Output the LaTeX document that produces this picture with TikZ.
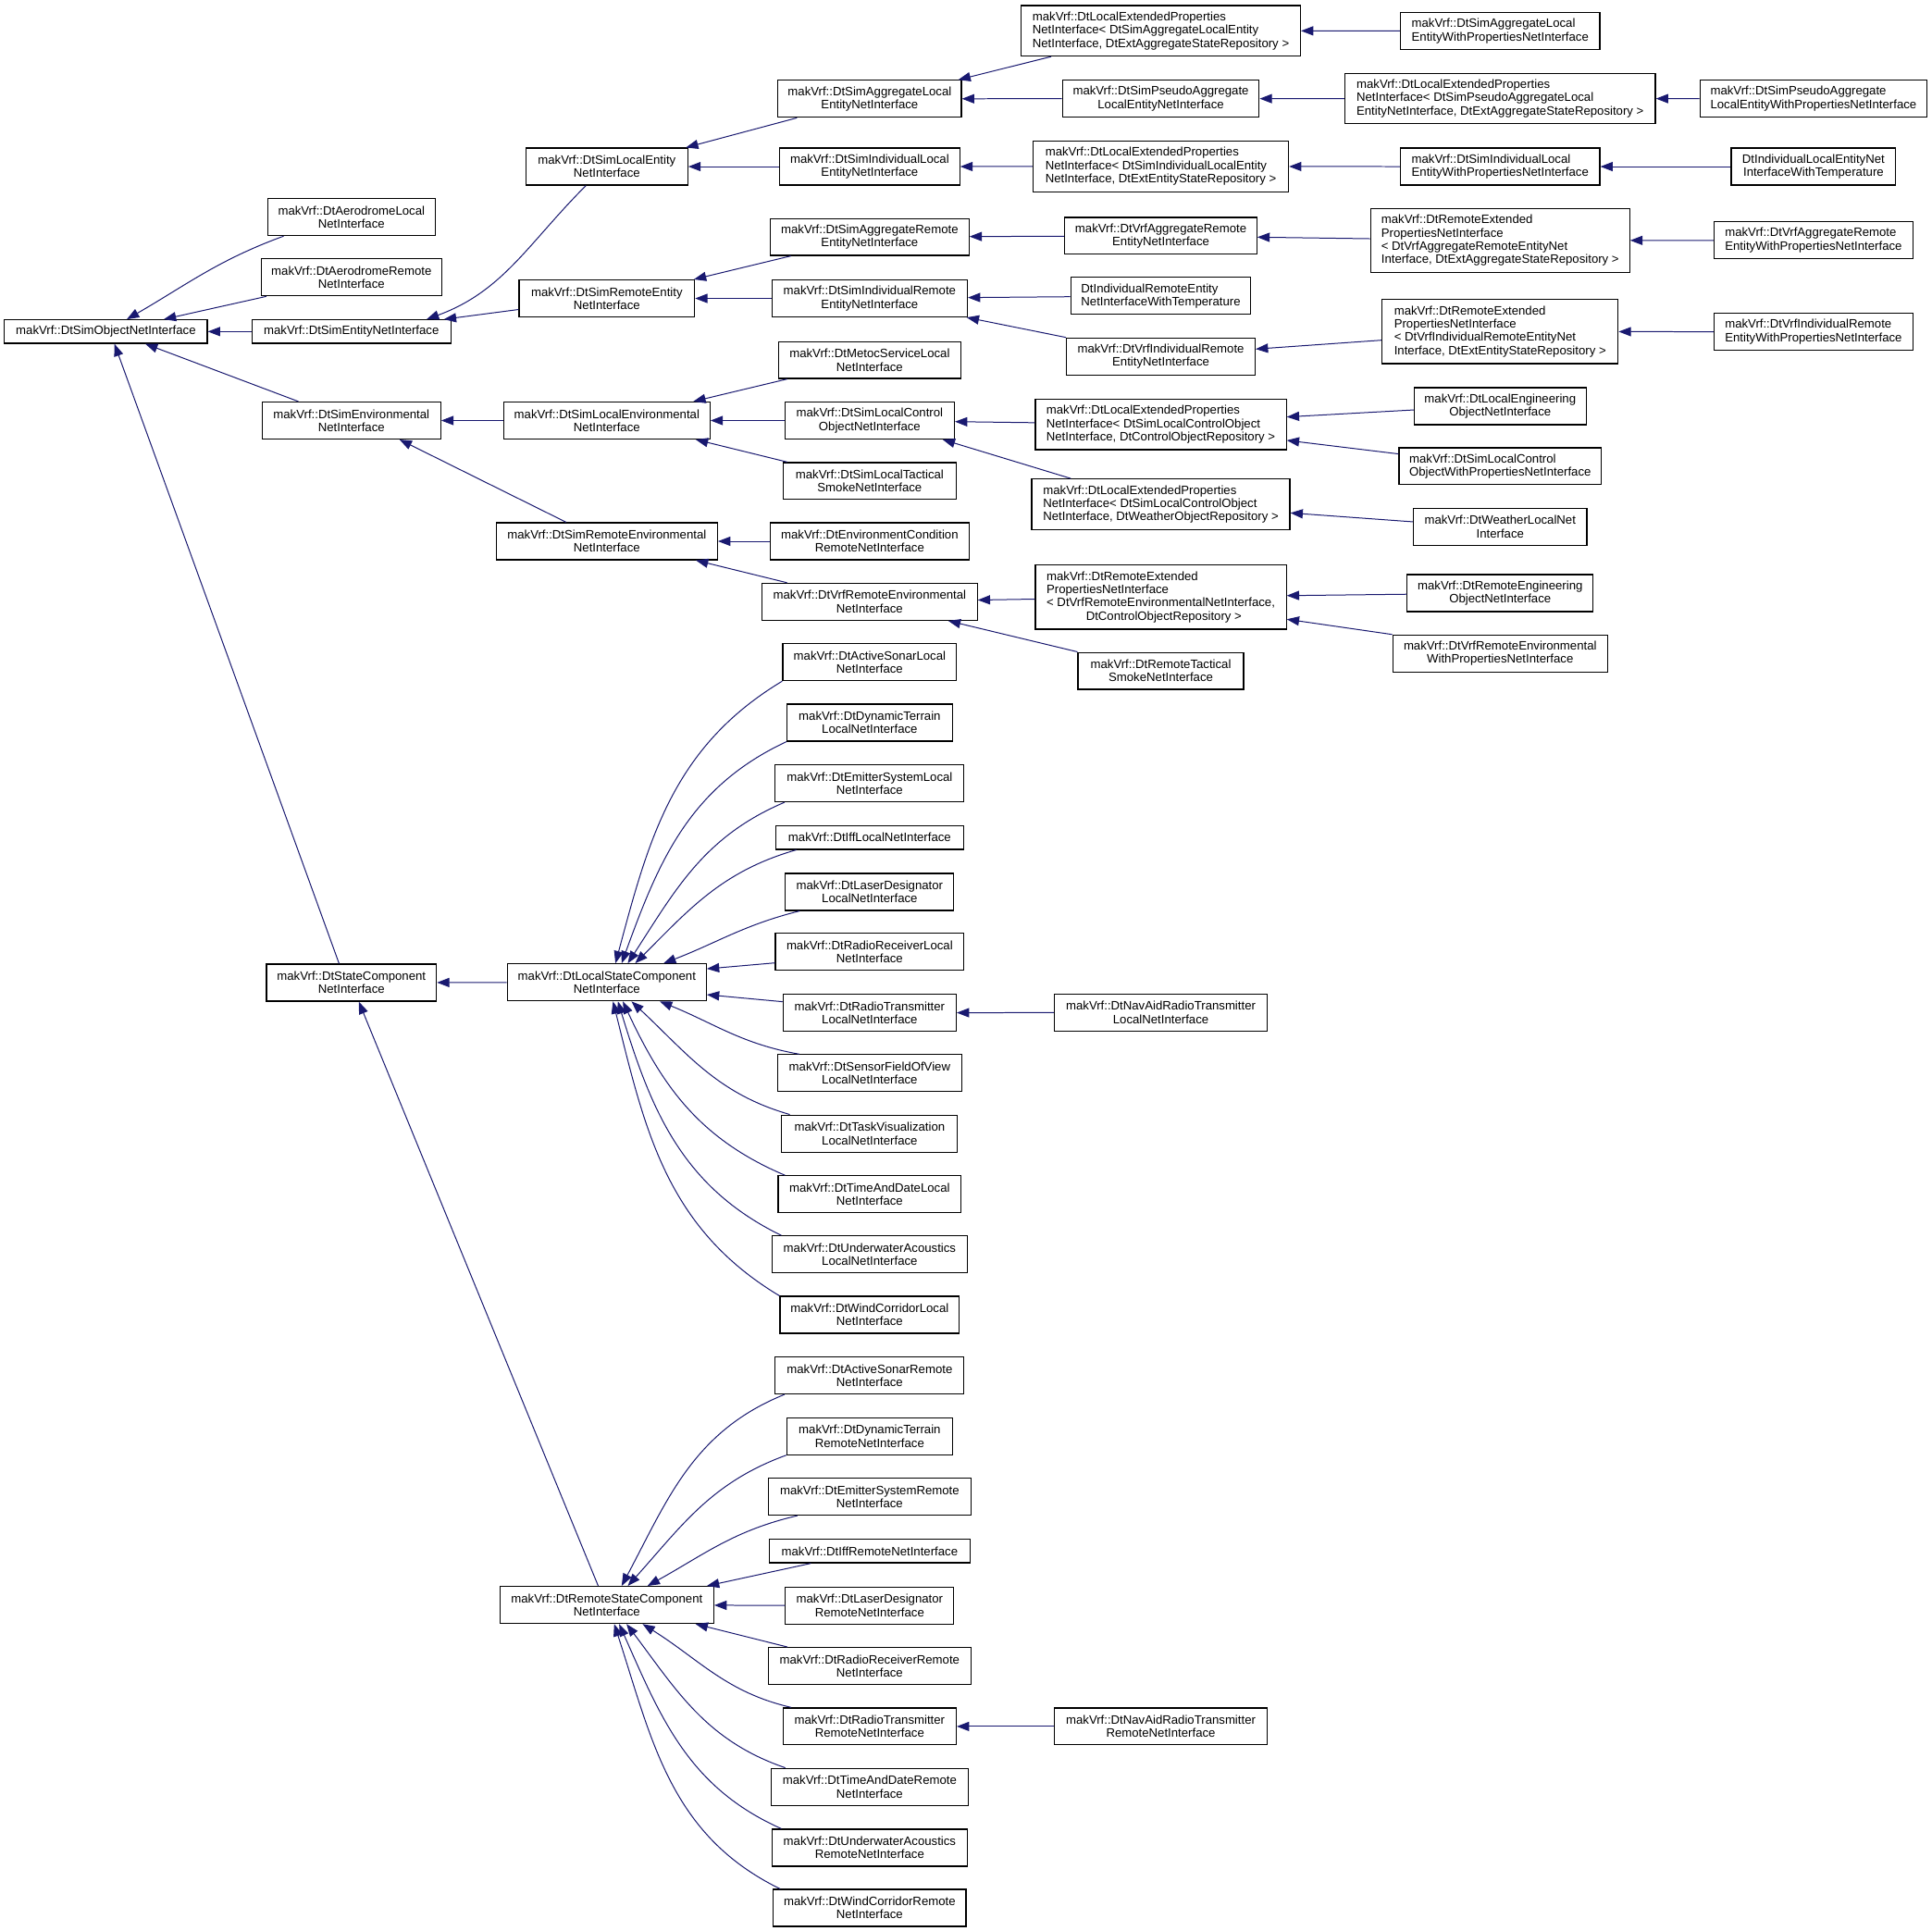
\documentclass[tikz,border=0pt]{standalone}
\usepackage{fontspec}
\setmainfont{Liberation Sans}
\usepackage{tikz}
\usetikzlibrary{arrows.meta}
\definecolor{dxblue}{RGB}{25,25,112}
\newcommand\dxfont{\fontsize{9.9}{10.8}\selectfont}
\tikzset{
    cls/.style={draw=black,line width=0.9pt,fill=white,font=\dxfont,align=center,inner xsep=2pt,inner ysep=1pt,minimum height=19pt},
    lft/.style={align=left},
    ln2/.style={minimum height=30pt},
    ln3/.style={minimum height=41pt},
    ln4/.style={minimum height=52pt},
    inh/.style={dxblue,line width=0.75pt,{Triangle[length=10pt,width=7.5pt]}-}
}

\begin{document}
\begin{tikzpicture}[x=1pt,y=-1pt]
                \fill[white] (0,0) rectangle (1568,1567);
                \useasboundingbox (0,0) rectangle (1568,1567);
                \node[cls,minimum width=164.7pt] (obj) at (85.9,269.1) {makVrf::DtSimObjectNetInterface};
                \node[cls,ln2,minimum width=135.7pt] (aeroL) at (285.2,176.2) {makVrf::DtAerodromeLocal\\NetInterface};
                \node[cls,ln2,minimum width=146.4pt] (aeroR) at (285.2,225.1) {makVrf::DtAerodromeRemote\\NetInterface};
                \node[cls,minimum width=161.2pt] (entity) at (285.2,269.1) {makVrf::DtSimEntityNetInterface};
                \node[cls,ln2,minimum width=144.9pt] (env) at (285.2,341.3) {makVrf::DtSimEnvironmental\\NetInterface};
                \node[cls,ln2,minimum width=138pt] (state) at (285.2,797.5) {makVrf::DtStateComponent\\NetInterface};
                \node[cls,ln2,minimum width=131.4pt] (locEnt) at (492.5,135.2) {makVrf::DtSimLocalEntity\\NetInterface};
                \node[cls,ln2,minimum width=142.4pt] (remEnt) at (492.5,242.2) {makVrf::DtSimRemoteEntity\\NetInterface};
                \node[cls,ln2,minimum width=167.4pt] (locEnv) at (492.5,341.3) {makVrf::DtSimLocalEnvironmental\\NetInterface};
                \node[cls,ln2,minimum width=179.6pt] (remEnv) at (492.5,439.3) {makVrf::DtSimRemoteEnvironmental\\NetInterface};
                \node[cls,ln2,minimum width=161.5pt] (locState) at (492.5,797.3) {makVrf::DtLocalStateComponent\\NetInterface};
                \node[cls,ln2,minimum width=173.5pt] (remState) at (492.5,1302.6) {makVrf::DtRemoteStateComponent\\NetInterface};
                \node[cls,ln2,minimum width=148.9pt] (aggLoc) at (705.8,80.2) {makVrf::DtSimAggregateLocal\\EntityNetInterface};
                \node[cls,ln2,minimum width=146.2pt] (indLoc) at (705.8,135.2) {makVrf::DtSimIndividualLocal\\EntityNetInterface};
                \node[cls,ln2,minimum width=161.2pt] (aggRem) at (705.8,192.3) {makVrf::DtSimAggregateRemote\\EntityNetInterface};
                \node[cls,ln2,minimum width=158.6pt] (indRem) at (705.8,242.2) {makVrf::DtSimIndividualRemote\\EntityNetInterface};
                \node[cls,ln2,minimum width=147.8pt] (metoc) at (705.8,292.2) {makVrf::DtMetocServiceLocal\\NetInterface};
                \node[cls,ln2,minimum width=137.6pt] (locCtrl) at (705.8,341.3) {makVrf::DtSimLocalControl\\ObjectNetInterface};
                \node[cls,ln2,minimum width=140.3pt] (locSmoke) at (705.8,390.4) {makVrf::DtSimLocalTactical\\SmokeNetInterface};
                \node[cls,ln2,minimum width=161.2pt] (envCond) at (705.8,439.3) {makVrf::DtEnvironmentCondition\\RemoteNetInterface};
                \node[cls,ln2,minimum width=174.6pt] (vrfEnv) at (705.8,488.4) {makVrf::DtVrfRemoteEnvironmental\\NetInterface};
                \node[cls,ln2,minimum width=141pt] (sonarL) at (705.8,537.4) {makVrf::DtActiveSonarLocal\\NetInterface};
                \node[cls,ln2,minimum width=134.1pt] (terrainL) at (705.8,586.5) {makVrf::DtDynamicTerrain\\LocalNetInterface};
                \node[cls,ln2,minimum width=153.2pt] (emitterL) at (705.8,635.7) {makVrf::DtEmitterSystemLocal\\NetInterface};
                \node[cls,minimum width=152.1pt] (iffL) at (705.8,679.8) {makVrf::DtIffLocalNetInterface};
                \node[cls,ln2,minimum width=136.7pt] (laserL) at (705.8,723.9) {makVrf::DtLaserDesignator\\LocalNetInterface};
                \node[cls,ln2,minimum width=152.9pt] (rxL) at (705.8,772.5) {makVrf::DtRadioReceiverLocal\\NetInterface};
                \node[cls,ln2,minimum width=140.5pt] (txL) at (705.8,822) {makVrf::DtRadioTransmitter\\LocalNetInterface};
                \node[cls,ln2,minimum width=149.4pt] (fovL) at (705.8,871) {makVrf::DtSensorFieldOfView\\LocalNetInterface};
                \node[cls,ln2,minimum width=142.7pt] (taskL) at (705.8,920) {makVrf::DtTaskVisualization\\LocalNetInterface};
                \node[cls,ln2,minimum width=148.6pt] (dateL) at (705.8,969.3) {makVrf::DtTimeAndDateLocal\\NetInterface};
                \node[cls,ln2,minimum width=158.6pt] (acousticL) at (705.8,1018.1) {makVrf::DtUnderwaterAcoustics\\LocalNetInterface};
                \node[cls,ln2,minimum width=145.6pt] (windL) at (705.8,1067.1) {makVrf::DtWindCorridorLocal\\NetInterface};
                \node[cls,ln2,minimum width=153.2pt] (sonarR) at (705.8,1116.3) {makVrf::DtActiveSonarRemote\\NetInterface};
                \node[cls,ln2,minimum width=134.4pt] (terrainR) at (705.8,1165.6) {makVrf::DtDynamicTerrain\\RemoteNetInterface};
                \node[cls,ln2,minimum width=164.4pt] (emitterR) at (705.8,1214.7) {makVrf::DtEmitterSystemRemote\\NetInterface};
                \node[cls,minimum width=162.6pt] (iffR) at (705.8,1258.9) {makVrf::DtIffRemoteNetInterface};
                \node[cls,ln2,minimum width=136.7pt] (laserR) at (705.8,1303.2) {makVrf::DtLaserDesignator\\RemoteNetInterface};
                \node[cls,ln2,minimum width=164.4pt] (rxR) at (705.8,1352.2) {makVrf::DtRadioReceiverRemote\\NetInterface};
                \node[cls,ln2,minimum width=140.5pt] (txR) at (705.8,1401.2) {makVrf::DtRadioTransmitter\\RemoteNetInterface};
                \node[cls,ln2,minimum width=160.1pt] (dateR) at (705.8,1450.2) {makVrf::DtTimeAndDateRemote\\NetInterface};
                \node[cls,ln2,minimum width=158.6pt] (acousticR) at (705.8,1499.6) {makVrf::DtUnderwaterAcoustics\\RemoteNetInterface};
                \node[cls,ln2,minimum width=156.3pt] (windR) at (705.8,1548.5) {makVrf::DtWindCorridorRemote\\NetInterface};
                \node[cls,ln3,lft,minimum width=226.6pt] (lep1) at (942.1,25) {makVrf::DtLocalExtendedProperties\\NetInterface< DtSimAggregateLocalEntity\\NetInterface, DtExtAggregateStateRepository >};
                \node[cls,ln2,minimum width=159.6pt] (pseudo) at (942.1,80.1) {makVrf::DtSimPseudoAggregate\\LocalEntityNetInterface};
                \node[cls,ln3,lft,minimum width=207.3pt] (lep3) at (942.1,135.1) {makVrf::DtLocalExtendedProperties\\NetInterface< DtSimIndividualLocalEntity\\NetInterface, DtExtEntityStateRepository >};
                \node[cls,ln2,minimum width=155.8pt] (vrfAgg) at (942.1,191.4) {makVrf::DtVrfAggregateRemote\\EntityNetInterface};
                \node[cls,ln2,lft,minimum width=146.2pt] (indRemTemp) at (942.1,240.2) {DtIndividualRemoteEntity\\NetInterfaceWithTemperature};
                \node[cls,ln2,minimum width=153.1pt] (vrfInd) at (942.1,289.3) {makVrf::DtVrfIndividualRemote\\EntityNetInterface};
                \node[cls,ln3,lft,minimum width=203.6pt] (lep4) at (942.1,344.4) {makVrf::DtLocalExtendedProperties\\NetInterface< DtSimLocalControlObject\\NetInterface, DtControlObjectRepository >};
                \node[cls,ln3,lft,minimum width=209.5pt] (lep5) at (942.1,409.3) {makVrf::DtLocalExtendedProperties\\NetInterface< DtSimLocalControlObject\\NetInterface, DtWeatherObjectRepository >};
                \node[cls,ln4,lft,minimum width=203.6pt] (rep3) at (942.1,484.6) {makVrf::DtRemoteExtended\\PropertiesNetInterface\\< DtVrfRemoteEnvironmentalNetInterface,\\\hspace*{32pt}DtControlObjectRepository >};
                \node[cls,ln2,minimum width=134.4pt] (remSmoke) at (942.1,544.5) {makVrf::DtRemoteTactical\\SmokeNetInterface};
                \node[cls,ln2,minimum width=172.7pt] (navL) at (942.1,821.8) {makVrf::DtNavAidRadioTransmitter\\LocalNetInterface};
                \node[cls,ln2,minimum width=172.7pt] (navR) at (942.1,1401.2) {makVrf::DtNavAidRadioTransmitter\\RemoteNetInterface};
                \node[cls,ln2,lft,minimum width=161.8pt] (aggLocProp) at (1217.5,25.1) {makVrf::DtSimAggregateLocal\\EntityWithPropertiesNetInterface};
                \node[cls,ln3,lft,minimum width=252pt] (lep2) at (1217.5,80) {makVrf::DtLocalExtendedProperties\\NetInterface< DtSimPseudoAggregateLocal\\EntityNetInterface, DtExtAggregateStateRepository >};
                \node[cls,ln2,lft,minimum width=161.8pt] (indLocProp) at (1217.5,135.2) {makVrf::DtSimIndividualLocal\\EntityWithPropertiesNetInterface};
                \node[cls,ln4,lft,minimum width=210.2pt] (rep1) at (1217.5,195.2) {makVrf::DtRemoteExtended\\PropertiesNetInterface\\< DtVrfAggregateRemoteEntityNet\\Interface, DtExtAggregateStateRepository >};
                \node[cls,ln4,lft,minimum width=191.5pt] (rep2) at (1217.5,269.1) {makVrf::DtRemoteExtended\\PropertiesNetInterface\\< DtVrfIndividualRemoteEntityNet\\Interface, DtExtEntityStateRepository >};
                \node[cls,ln2,minimum width=139.5pt] (locEng) at (1217.5,329.7) {makVrf::DtLocalEngineering\\ObjectNetInterface};
                \node[cls,ln2,lft,minimum width=164.2pt] (ctrlProp) at (1217.5,378.4) {makVrf::DtSimLocalControl\\ObjectWithPropertiesNetInterface};
                \node[cls,ln2,minimum width=140.8pt] (weather) at (1217.5,427.5) {makVrf::DtWeatherLocalNet\\Interface};
                \node[cls,ln2,minimum width=150.8pt] (remEng) at (1217.5,481.4) {makVrf::DtRemoteEngineering\\ObjectNetInterface};
                \node[cls,ln2,minimum width=174.3pt] (vrfEnvProp) at (1217.5,530.4) {makVrf::DtVrfRemoteEnvironmental\\WithPropertiesNetInterface};
                \node[cls,ln2,lft,minimum width=184.4pt] (pseudoProp) at (1471.8,80.1) {makVrf::DtSimPseudoAggregate\\LocalEntityWithPropertiesNetInterface};
                \node[cls,ln2,minimum width=133.5pt] (indLocTemp) at (1471.8,135.2) {DtIndividualLocalEntityNet\\InterfaceWithTemperature};
                \node[cls,ln2,lft,minimum width=161.5pt] (vrfAggProp) at (1471.8,195) {makVrf::DtVrfAggregateRemote\\EntityWithPropertiesNetInterface};
                \node[cls,ln2,lft,minimum width=161.5pt] (vrfIndProp) at (1471.8,269.3) {makVrf::DtVrfIndividualRemote\\EntityWithPropertiesNetInterface};

                \draw[inh] ([xshift=17pt]obj.north) to[out=30,in=200] ([xshift=-55pt]aeroL.south);
                \draw[inh] ([xshift=47pt]obj.north) -- ([xshift=-69pt]aeroR.south);
                \draw[inh] (obj) -- (entity);
                \draw[inh] ([xshift=32pt]obj.south) -- ([xshift=-43pt]env.north);
                \draw[inh] ([xshift=7pt]obj.south) -- ([xshift=-10pt]state.north);
                \draw[inh] ([xshift=61pt]entity.north) to[out=20,in=225] ([xshift=-17pt]locEnt.south);
                \draw[inh] ([xshift=-6pt]entity.north east) -- ([yshift=-9pt]remEnt.west);
                \draw[inh] ([xshift=-2pt]locEnt.north east) -- ([xshift=-59pt]aggLoc.south);
                \draw[inh] (locEnt) -- (indLoc);
                \draw[inh] ([xshift=-1pt]remEnt.north east) -- ([xshift=-64pt]aggRem.south);
                \draw[inh] (remEnt) -- (indRem);
                \draw[inh] ([xshift=-3pt]aggLoc.north east) -- ([xshift=-89pt]lep1.south);
                \draw[inh] (aggLoc) -- (pseudo);
                \draw[inh] (indLoc) -- (lep3);
                \draw[inh] (aggRem) -- (vrfAgg);
                \draw[inh] (indRem) -- (indRemTemp);
                \draw[inh] ([xshift=-1pt]indRem.south east) -- (vrfInd.north west);
                \draw[inh] (lep1) -- (aggLocProp);
                \draw[inh] (pseudo) -- (lep2);
                \draw[inh] (lep3) -- (indLocProp);
                \draw[inh] (vrfAgg) -- (rep1);
                \draw[inh] ([yshift=6pt]vrfInd.east) -- ([yshift=-7pt]rep2.west);
                \draw[inh] (lep2) -- (pseudoProp);
                \draw[inh] (indLocProp) -- (indLocTemp);
                \draw[inh] (rep1) -- (vrfAggProp);
                \draw[inh] (rep2) -- (vrfIndProp);
                \draw[inh] (env) -- (locEnv);
                \draw[inh] ([xshift=39pt]env.south) -- ([xshift=-33pt]remEnv.north);
                \draw[inh] ([xshift=-14pt]locEnv.north east) -- ([xshift=-67pt]metoc.south);
                \draw[inh] (locEnv) -- (locCtrl);
                \draw[inh] ([xshift=-12pt]locEnv.south east) -- ([xshift=-67pt]locSmoke.north);
                \draw[inh] (locCtrl) -- (lep4);
                \draw[inh] ([xshift=-10pt]locCtrl.south east) -- ([xshift=-73pt]lep5.north);
                \draw[inh] ([yshift=6pt]lep4.east) -- ([yshift=-3pt]locEng.west);
                \draw[inh] ([yshift=-13pt]lep4.east) -- ([yshift=10pt]ctrlProp.west);
                \draw[inh] ([yshift=-7pt]lep5.east) -- ([yshift=4pt]weather.west);
                \draw[inh] (remEnv) -- (envCond);
                \draw[inh] ([xshift=-18pt]remEnv.south east) -- ([xshift=-67pt]vrfEnv.north);
                \draw[inh] (vrfEnv) -- (rep3);
                \draw[inh] ([xshift=-24pt]vrfEnv.south east) -- (remSmoke.north west);
                \draw[inh] (rep3) -- (remEng);
                \draw[inh] ([yshift=-18pt]rep3.east) -- (vrfEnvProp.north west);
                \draw[inh] (state) -- (locState);
                \draw[inh] ([xshift=6pt]state.south) -- ([xshift=-7pt]remState.north);
                \draw[inh] ([xshift=7pt]locState.north) to[out=75,in=211] (sonarL.south west);
                \draw[inh] ([xshift=12pt]locState.north) to[out=70,in=205] (terrainL.south west);
                \draw[inh] ([xshift=17pt]locState.north) to[out=57,in=203] ([xshift=8pt]emitterL.south west);
                \draw[inh] ([xshift=23pt]locState.north) to[out=45,in=196] ([xshift=17pt]iffL.south west);
                \draw[inh] ([xshift=46pt]locState.north) to[out=21,in=194] ([xshift=12pt]laserL.south west);
                \draw[inh] ([yshift=11pt]locState.east) -- ([yshift=-9pt]rxL.west);
                \draw[inh] ([yshift=-10pt]locState.east) -- ([yshift=9pt]txL.west);
                \draw[inh] ([xshift=43pt]locState.south) to[out=-22,in=170] ([xshift=18pt]fovL.north west);
                \draw[inh] ([xshift=20pt]locState.south) to[out=-43,in=164] ([xshift=7pt]taskL.north west);
                \draw[inh] ([xshift=13pt]locState.south) to[out=-65,in=157] ([xshift=6pt]dateL.north west);
                \draw[inh] ([xshift=9pt]locState.south) to[out=-73,in=154] ([xshift=8pt]acousticL.north west);
                \draw[inh] ([xshift=5pt]locState.south) to[out=-76,in=149] (windL.north west);
                \draw[inh] (txL) -- (navL);
                \draw[inh] ([xshift=12pt]remState.north) to[out=62,in=202] ([xshift=8pt]sonarR.south west);
                \draw[inh] ([xshift=17pt]remState.north) to[out=48,in=200] (terrainR.south west);
                \draw[inh] ([xshift=33pt]remState.north) to[out=29,in=193] ([xshift=24pt]emitterR.south west);
                \draw[inh] ([xshift=-6pt]remState.north east) -- ([xshift=34pt]iffR.south west);
                \draw[inh] (remState) -- (laserR);
                \draw[inh] ([xshift=72pt]remState.south) -- ([xshift=16pt]rxR.north west);
                \draw[inh] ([xshift=29pt]remState.south) to[out=-32,in=167] ([xshift=7pt]txR.north west);
                \draw[inh] ([xshift=16pt]remState.south) to[out=-53,in=161] ([xshift=12pt]dateR.north west);
                \draw[inh] ([xshift=10pt]remState.south) to[out=-66,in=156] ([xshift=8pt]acousticR.north west);
                \draw[inh] ([xshift=6pt]remState.south) to[out=-72,in=154] ([xshift=6pt]windR.north west);
                \draw[inh] (txR) -- (navR);
            \end{tikzpicture}
\end{document}
